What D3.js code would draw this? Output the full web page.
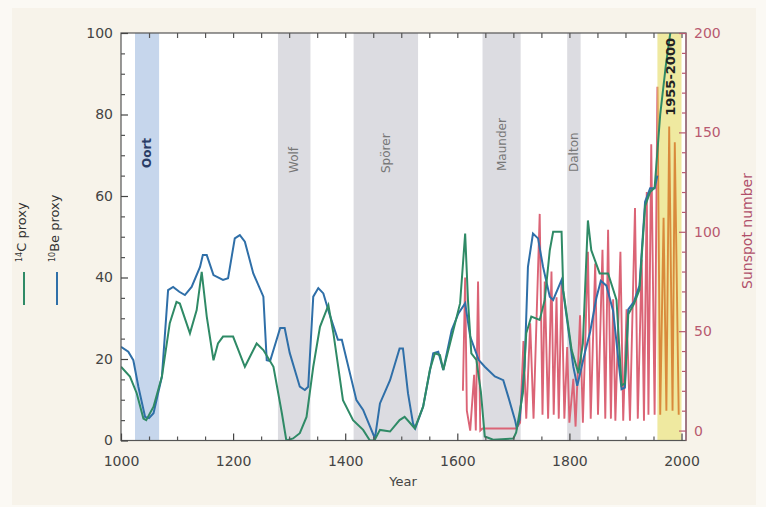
<!DOCTYPE html>
<html>
<head>
<meta charset="utf-8">
<script src="https://cdn.jsdelivr.net/npm/d3@7"></script>
<style>
  body { margin: 0; background: #fff; }
  svg { display: block; font-family: "DejaVu Sans", sans-serif; }
</style>
</head>
<body>
<svg id="chart" width="766" height="507"></svg>
<script>
'use strict'

// ---- data ----
// [year, value] pairs for the two cosmogenic isotope proxies (left axis)
const c14Proxy = [
  [1000,18.1],[1016,15.7],[1028,11.6],[1040,5.4],[1045,5],[1058,8.3],[1073,15.7],[1087,28.8],
  [1099,34],[1105,33.6],[1123,26.3],[1135,32],[1144,41.4],[1153,30.4],[1165,19.7],[1173,23.8],
  [1182,25.5],[1200,25.5],[1221,18.1],[1242,23.8],[1254,22.2],[1272,18.1],[1287,6.7],[1295,0],
  [1307,0.5],[1319,1.8],[1331,5.8],[1343,18.1],[1355,27.9],[1370,33.2],[1379,26.3],[1396,9.9],
  [1414,5],[1432,2.6],[1444,0],[1452,0],[1462,2.6],[1480,2.2],[1497,5],[1506,5.8],[1524,3],
  [1539,8.3],[1551,17.3],[1560,21.4],[1569,21],[1575,17.3],[1587,23.8],[1599,30.4],[1605,33.7],
  [1614,50.8],[1619,34.5],[1625,21.4],[1634,19.8],[1642,12],[1649,1],[1664,0.2],[1700,0.5],
  [1705,2],[1717,11.6],[1723,26.3],[1732,30.4],[1747,29.6],[1756,34.5],[1765,46.7],[1771,51.2],
  [1786,51.2],[1789,36.9],[1804,22.2],[1816,16.5],[1824,23.8],[1833,54],[1839,46.7],[1854,41],
  [1869,41],[1884,34.5],[1893,13.5],[1899,14],[1905,31],[1915,33.5],[1925,37],[1935,57.5],
  [1944,61],[1952,62],[1962,80],[1972,92],[1985,105]
]

const be10Proxy = [
  [1000,23],[1013,21.8],[1022,19.7],[1031,13.2],[1043,5.8],[1050,5.5],[1058,6.7],[1073,15.7],
  [1084,36.9],[1093,37.7],[1104,36.5],[1114,35.7],[1126,37.7],[1141,42.6],[1146,45.5],[1153,45.5],
  [1165,40.6],[1182,39.4],[1191,39.8],[1203,49.6],[1212,50.4],[1221,48.8],[1236,41],[1254,35.3],
  [1260,19.7],[1266,19.5],[1284,27.6],[1292,27.6],[1301,21.5],[1319,13.2],[1328,12.4],[1334,13.2],
  [1343,35.3],[1352,37.4],[1361,36.1],[1372,31],[1387,24.7],[1394,24.7],[1420,9.9],[1432,7.5],
  [1453,0.5],[1462,9.1],[1480,14.8],[1497,22.6],[1503,22.6],[1512,11.6],[1521,4.2],[1525,3],
  [1539,8.3],[1557,21.4],[1566,21.8],[1575,17.3],[1590,27.1],[1602,31.2],[1614,33.7],[1623,25.5],
  [1638,19.8],[1649,18.1],[1667,15.7],[1682,14.8],[1691,10.7],[1703,5],[1706,3],[1711,5],
  [1720,18.1],[1726,42.6],[1735,50.8],[1744,49.6],[1753,42.6],[1765,35.3],[1771,34.5],[1786,39.4],
  [1795,30.4],[1807,18.1],[1814,13.4],[1828,21.8],[1837,26.7],[1848,34.9],[1856,39.2],[1866,38],
  [1878,31.8],[1893,12.6],[1899,13],[1905,32.2],[1915,34],[1925,38],[1935,58.6],[1944,61.9],
  [1952,61.9],[1957,65]
]

// sunspot number (right axis), cycle minima and maxima
const sunspots = [
  [1610,20],[1614,77],[1617,10],[1623,0],[1630,28],[1633,0],[1637,75],[1641,0],[1645,1],[1705,1],
  [1712,4],[1718,45],[1723,6],[1730,54],[1736,6],[1747,109],[1752,8],[1756,75],[1762,6],[1768,80],
  [1772,8],[1777,67],[1781,6],[1786,75],[1791,6],[1796,42],[1800,4],[1807,26],[1811,2],[1819,58],
  [1824,4],[1833,90],[1838,6],[1846,84],[1851,8],[1859,91],[1864,6],[1869,101],[1874,6],[1878,66],
  [1882,5],[1891,90],[1896,5],[1902,61],[1908,5],[1917,112],[1922,6],[1929,86],[1933,5],[1938,120],
  [1941,8],[1946,144],[1952,8],[1957,173],[1962,8],[1968,107],[1973,10],[1978,153],[1984,10],
  [1988,145],[1995,8]
]

const minimaNames = ['Oort', 'Wolf', 'Spörer', 'Maunder', 'Dalton']
const minimaStart = [1025, 1280, 1415, 1645, 1796]
const minimaEnd   = [1068, 1338, 1530, 1713, 1820]
const modernLabel = '1955-2000'
const modernSpan = [1957, 2000]

const yearTicks = [1000, 1200, 1400, 1600, 1800, 2000]
const proxyTicks = [0, 20, 40, 60, 80, 100]
const sunspotTicks = [0, 50, 100, 150, 200]

// ---- layout ----
const W = 766, H = 507
const pLeft = 121, pRight = 686, pTop = 33, pBottom = 440.5

const svg = d3.select('#chart')

const x = d3.scaleLinear().domain([1000, 2008]).range([pLeft, pRight])
const yL = d3.scaleLinear().domain([0, 100]).range([pBottom, pTop])
const yR = d3.scaleLinear().domain([-5, 200]).range([pBottom, pTop])

svg.append('rect').attr('width', W).attr('height', H).attr('fill', '#fbf9f4')
svg.append('rect').attr('x', 12).attr('y', 8).attr('width', 744).attr('height', 497).attr('fill', '#f7f3ea')
svg.append('rect').attr('x', pLeft).attr('y', pTop).attr('width', pRight - pLeft).attr('height', pBottom - pTop).attr('fill', '#fff')

svg.append('clipPath').attr('id', 'plot')
  .append('rect').attr('x', pLeft).attr('y', pTop).attr('width', pRight - pLeft).attr('height', pBottom - pTop)
svg.append('clipPath').attr('id', 'before')
  .append('rect').attr('x', pLeft).attr('y', pTop).attr('width', x(modernSpan[0]) - pLeft).attr('height', pBottom - pTop)
svg.append('clipPath').attr('id', 'inside')
  .append('rect').attr('x', x(modernSpan[0])).attr('y', pTop).attr('width', pRight - x(modernSpan[0])).attr('height', pBottom - pTop)

// grand minima bands
const bands = svg.append('g').attr('class', 'bands')
bands.selectAll('rect').data(minimaNames).enter().append('rect')
  .attr('x', (d, i) => x(minimaStart[i]))
  .attr('width', (d, i) => x(minimaEnd[i]) - x(minimaStart[i]))
  .attr('y', pTop).attr('height', pBottom - pTop)
  .attr('fill', (d, i) => i === 0 ? '#c6d6ec' : '#dcdce1')

bands.append('rect')
  .attr('x', x(modernSpan[0])).attr('width', x(modernSpan[1]) - x(modernSpan[0]))
  .attr('y', pTop).attr('height', pBottom - pTop)
  .attr('fill', '#efe9a0')

// lines
const proxyLine = d3.line().x(d => x(d[0])).y(d => yL(d[1]))
const spotLine = d3.line().x(d => x(d[0])).y(d => yR(d[1]))

const lines = svg.append('g').attr('clip-path', 'url(#plot)')
lines.append('path').datum(sunspots).attr('d', spotLine)
  .attr('clip-path', 'url(#before)')
  .attr('fill', 'none').attr('stroke', '#db6476').attr('stroke-width', 1.9)
lines.append('path').datum(sunspots).attr('d', spotLine)
  .attr('clip-path', 'url(#inside)')
  .attr('fill', 'none').attr('stroke', '#d98a3c').attr('stroke-width', 1.9)
lines.append('path').datum(be10Proxy).attr('d', proxyLine)
  .attr('fill', 'none').attr('stroke', '#2f6fa8').attr('stroke-width', 2)
lines.append('path').datum(c14Proxy).attr('d', proxyLine)
  .attr('fill', 'none').attr('stroke', '#2f8a66').attr('stroke-width', 2)

// frame
svg.append('rect').attr('x', pLeft).attr('y', pTop).attr('width', pRight - pLeft).attr('height', pBottom - pTop)
  .attr('fill', 'none').attr('stroke', '#555').attr('stroke-width', 1.2)

function styleAxis(g, color) {
  g.select('.domain').remove()
  g.selectAll('line').attr('stroke', color).attr('stroke-width', 1.2)
  g.selectAll('text').attr('fill', color).attr('font-size', 14)
    .attr('font-family', '"DejaVu Sans", sans-serif')
}

// left axis
svg.append('g').attr('transform', `translate(${pLeft},0)`)
  .call(d3.axisLeft(yL).tickValues(proxyTicks).tickSize(-7).tickPadding(8))
  .call(g => styleAxis(g, '#444'))
svg.append('g').attr('transform', `translate(${pLeft},0)`)
  .call(d3.axisLeft(yL).tickValues(d3.range(0, 101, 5).filter(v => v % 20)).tickSize(-4).tickFormat(''))
  .call(g => styleAxis(g, '#555'))

// bottom axis
svg.append('g').attr('transform', `translate(0,${pBottom})`)
  .call(d3.axisBottom(x).tickValues(yearTicks).tickFormat(d3.format('d')).tickSize(-7).tickPadding(16))
  .call(g => styleAxis(g, '#444'))
svg.append('g').attr('transform', `translate(0,${pBottom})`)
  .call(d3.axisBottom(x).tickValues(d3.range(1050, 2000, 50).filter(v => v % 200)).tickSize(-4).tickFormat(''))
  .call(g => styleAxis(g, '#555'))
// top axis, ticks only
svg.append('g').attr('transform', `translate(0,${pTop})`)
  .call(d3.axisTop(x).tickValues(d3.range(1050, 2001, 50)).tickSize(-5).tickFormat(''))
  .call(g => styleAxis(g, '#555'))

// right axis (sunspots)
const red = '#b85a70'
svg.append('line').attr('x1', pRight).attr('x2', pRight).attr('y1', pTop).attr('y2', pBottom)
  .attr('stroke', '#a8667a').attr('stroke-width', 1.2)
svg.append('g').attr('transform', `translate(${pRight},0)`)
  .call(d3.axisRight(yR).tickValues(sunspotTicks).tickSize(-7).tickPadding(8))
  .call(g => styleAxis(g, red))
svg.append('g').attr('transform', `translate(${pRight},0)`)
  .call(d3.axisRight(yR).tickValues(d3.range(10, 200, 10).filter(v => v % 50)).tickSize(-4).tickFormat(''))
  .call(g => styleAxis(g, red))

// axis titles
svg.append('text').attr('x', 403).attr('y', 486).attr('text-anchor', 'middle')
  .attr('font-size', 13).attr('fill', '#444').text('Year')
svg.append('text').attr('transform', 'translate(747,231) rotate(-90)').attr('text-anchor', 'middle')
  .attr('dy', '0.35em').attr('font-size', 14).attr('fill', '#b0506a').text('Sunspot number')

// band labels
const labelBottom = [168, 173, 173, 171, 172]
bands.selectAll('text.minimum').data(minimaNames).enter().append('text')
  .attr('class', 'minimum')
  .attr('transform', (d, i) => `translate(${(x(minimaStart[i]) + x(minimaEnd[i])) / 2},${labelBottom[i]}) rotate(-90)`)
  .attr('dy', '0.35em')
  .attr('font-size', 12)
  .attr('font-weight', (d, i) => i === 0 ? 'bold' : 'normal')
  .attr('fill', (d, i) => i === 0 ? '#2a3d66' : '#777')
  .text(d => d)
svg.append('text')
  .attr('transform', `translate(${(x(modernSpan[0]) + x(modernSpan[1])) / 2 + 1},38) rotate(-90)`)
  .attr('text-anchor', 'end').attr('dy', '0.35em')
  .attr('font-size', 13).attr('font-weight', 'bold').attr('fill', '#222')
  .text(modernLabel)

// legend on the left
const legend = [
  { sup: '14', rest: 'C proxy', color: '#2f8a66', x: 24 },
  { sup: '10', rest: 'Be proxy', color: '#2f6fa8', x: 57 }
]
legend.forEach(l => {
  const t = svg.append('text')
    .attr('transform', `translate(${l.x},262) rotate(-90)`)
    .attr('dy', '0.35em').attr('font-size', 13).attr('fill', '#333')
  t.append('tspan').attr('font-size', 8).attr('dy', '-0.3em').text(l.sup)
  t.append('tspan').attr('dy', '0.3em').text(l.rest)
  svg.append('line').attr('x1', l.x).attr('x2', l.x).attr('y1', 272).attr('y2', 305)
    .attr('stroke', l.color).attr('stroke-width', 2)
})
</script>
</body>
</html>
